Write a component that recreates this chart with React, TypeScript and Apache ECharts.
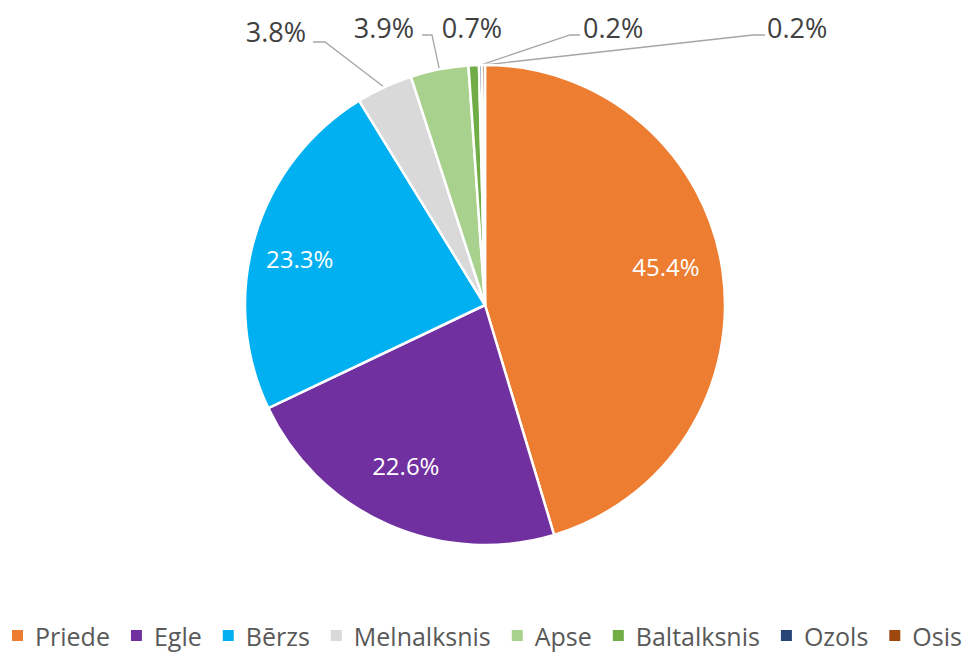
import { useEffect, useRef } from "react";
import * as echarts from "echarts";

const categories = ["Priede", "Egle", "Bērzs", "Melnalksnis", "Apse", "Baltalksnis", "Ozols", "Osis"];
const shares = [45.4, 22.6, 23.3, 3.8, 3.9, 0.7, 0.2, 0.2];
const colors = ["#ED7D31", "#7030A0", "#00B0F0", "#D9D9D9", "#A9D18E", "#70AD47", "#264478", "#9E480E"];
const insideLabelled = [true, true, true, false, false, false, false, false];

// label placement (layout only)
const insideOffsets: number[][] = [[-5, -11], [-3, -11], [-5, 7], [0, 0], [0, 0], [0, 0], [0, 0], [0, 0]];
const outsideLayout: Record<number, any> = {
  3: { x: 306, y: 31, align: "right", elbowX: 325, endX: 313, lineY: 42 },
  4: { x: 414, y: 27, align: "right", elbowX: 432, endX: 422, lineY: 35 },
  5: { x: 472, y: 27, align: "center" },
  6: { x: 583, y: 27, align: "left", elbowX: 570, endX: 580, lineY: 35 },
  7: { x: 767, y: 27, align: "left", elbowX: 753, endX: 765, lineY: 35 },
};

const FONT = "'Open Sans', sans-serif";

export default function App() {
  const ref = useRef<HTMLDivElement>(null);
  useEffect(() => {
    if (!ref.current) return;
    const chart = echarts.init(ref.current, null, { renderer: "svg" });
    const fmt = (p: any) => `${Number(p.value).toFixed(1)}%`;
    chart.setOption({
      animation: false,
      color: colors,
      legend: {
        left: 10,
        top: 623,
        padding: 0,
        icon: "rect",
        itemWidth: 13,
        itemHeight: 13,
        itemGap: 19,
        textStyle: { fontFamily: FONT, fontSize: 25, color: "#595959", lineHeight: 24, padding: [0, 0, 0, 6] },
        data: categories,
      },
      series: [
        {
          type: "pie",
          center: [485, 305],
          radius: [0, 240],
          startAngle: 90,
          clockwise: true,
          avoidLabelOverlap: false,
          itemStyle: { borderColor: "#ffffff", borderWidth: 2.5 },
          emphasis: { disabled: true },
          label: {
            show: true,
            position: "outside",
            formatter: fmt,
            fontFamily: FONT,
            fontSize: 27,
            color: "#404040",
          },
          labelLine: { show: true, length: 10, length2: 10, lineStyle: { color: "#A6A6A6", width: 1.3 } },
          labelLayout: (params: any) => {
            const L = outsideLayout[params.dataIndex];
            if (!L) return {};
            const res: any = { x: L.x, y: L.y, align: L.align, verticalAlign: "middle" };
            if (L.elbowX != null && params.labelLinePoints) {
              res.labelLinePoints = [params.labelLinePoints[0], [L.elbowX, L.lineY], [L.endX, L.lineY]];
            }
            return res;
          },
          data: categories.map((name, i) => ({
            name,
            value: shares[i],
            label: { show: !insideLabelled[i] },
            labelLine: { show: !insideLabelled[i] && outsideLayout[i] && outsideLayout[i].elbowX != null },
          })),
        },
        {
          type: "pie",
          center: [485, 305],
          radius: [130, 240],
          startAngle: 90,
          clockwise: true,
          silent: true,
          z: 5,
          avoidLabelOverlap: false,
          itemStyle: { color: "rgba(0,0,0,0)", borderWidth: 0 },
          emphasis: { disabled: true },
          label: {
            show: true,
            position: "inside",
            formatter: fmt,
            fontFamily: FONT,
            fontSize: 24,
            color: "#ffffff",
          },
          labelLine: { show: false },
          data: categories.map((name, i) => ({
            name,
            value: shares[i],
            label: { show: insideLabelled[i], offset: insideOffsets[i] },
          })),
        },
      ],
    });
    return () => chart.dispose();
  }, []);
  return (
    <div style={{ position: "absolute", left: 0, top: 0, width: 975, height: 653, overflow: "hidden", background: "#fff" }}>
      <div ref={ref} style={{ width: 1100, height: 653 }} />
    </div>
  );
}
